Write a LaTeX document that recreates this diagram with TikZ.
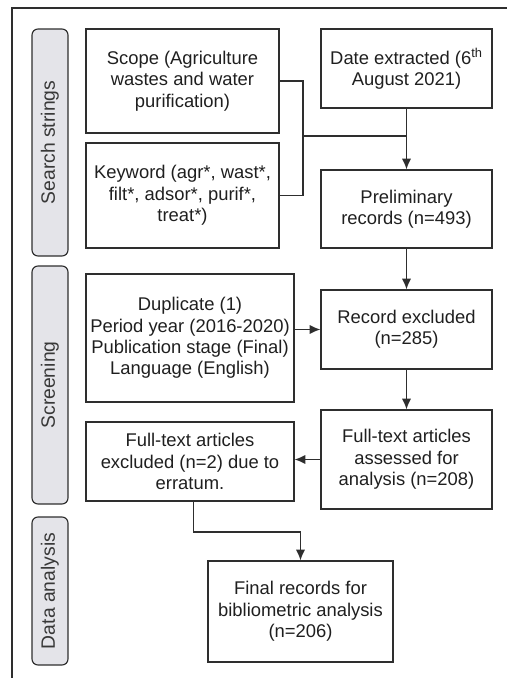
\documentclass[tikz,border=0pt]{standalone}
\usepackage{fontspec}
\setmainfont{Liberation Sans}
\usetikzlibrary{arrows.meta}
\definecolor{edge}{HTML}{2E2E2E}
\definecolor{stagefill}{HTML}{E4E4E9}
\definecolor{stagetext}{HTML}{383838}
\begin{document}
\begin{tikzpicture}[x=0.75pt,y=-0.75pt,
  every node/.style={font=\fontsize{13.8}{16}\selectfont,text=black!88},
  box/.style={draw=edge,line width=1pt,align=center,inner sep=2pt},
  stage/.style={draw=edge,line width=0.85pt,fill=stagefill,rounded corners=4.5pt,
    rotate=90,minimum height=27pt,inner sep=0pt,text=stagetext,
    font=\fontsize{14.5}{16}\selectfont},
  link/.style={draw=edge,line width=1pt},
  arr/.style={link,-{Latex[length=8pt,width=7pt]}}]
\useasboundingbox (0,0) rectangle (507,678);
% outer frame (continues past the right and bottom edges)
\draw[edge,line width=0.8pt] (12,678) -- (12,8) -- (507,8);

% stage labels
\node[stage,minimum width=170.25pt] (sstr) at (50,142.5) {Search strings};
\node[stage,minimum width=178.5pt] (scr) at (50,385) {Screening};
\node[stage,minimum width=111pt] (dan) at (50,591) {Data analysis};

% boxes
\node[box,minimum width=144.75pt,minimum height=78pt] (scope) at (182.5,81)
  {Scope (Agriculture\\wastes and water\\purification)};
\node[box,minimum width=144.75pt,minimum height=78.75pt] (kw) at (182.5,195.5)
  {Keyword (agr*, wast*,\\filt*, adsor*, purif*,\\treat*)};
\node[box,minimum width=128.25pt,minimum height=59.25pt] (date) at (406.5,68.5)
  {Date extracted (6\textsuperscript{th}\\August 2021)};
\node[box,minimum width=128.25pt,minimum height=58.5pt] (prelim) at (406.5,209)
  {Preliminary\\records (n=493)};
\node[box,minimum width=156pt,minimum height=96pt] (dup) at (190,338)
  {Duplicate (1)\\Period year (2016-2020)\\Publication stage (Final)\\Language (English)};
\node[box,minimum width=128.25pt,minimum height=59.25pt] (rec) at (406.5,329.5)
  {Record excluded\\(n=285)};
\node[box,minimum width=128.25pt,minimum height=74.25pt] (assess) at (406.5,459.5)
  {Full-text articles\\assessed for\\analysis (n=208)};
\node[box,minimum width=156pt,minimum height=59.25pt] (excl) at (190,461.5)
  {Full-text articles\\excluded (n=2) due to\\erratum.};
\node[box,minimum width=138.75pt,minimum height=75.75pt] (final) at (300.5,611.5)
  {Final records for\\bibliometric analysis\\(n=206)};

% connectors
\coordinate (j) at (303,136);
\draw[link] (scope.east) -| (j) |- (kw.east);
\draw[link] (j) -- (date.south |- j);
\draw[arr] (date.south) -- (prelim.north);
\draw[arr] (prelim.south) -- (rec.north);
\draw[arr] (rec.west -| dup.east) -- (rec.west);
\draw[arr] (rec.south) -- (assess.north);
\draw[arr] (assess.west) -- (assess.west -| excl.east);
\coordinate (k) at (0,532);
\draw[arr] ([xshift=2.6pt]excl.south) -- ([xshift=2.6pt]excl.south |- k) -| (final.north);
\end{tikzpicture}
\end{document}
